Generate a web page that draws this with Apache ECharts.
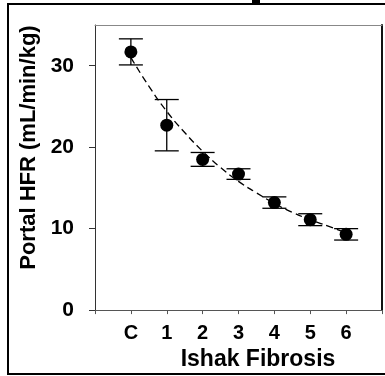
<!DOCTYPE html>
<html>
<head>
<meta charset="utf-8">
<script src="https://cdn.jsdelivr.net/npm/echarts@6/dist/echarts.min.js"></script>
<style>
html,body{margin:0;padding:0;background:#fff;}
#chart{width:385px;height:376px;}
</style>
</head>
<body>
<div id="chart"></div>
<script>
// Categories (x positions 0..6)
var categories = ['C', '1', '2', '3', '4', '5', '6'];
// Mean portal HFR values
var meanValues = [31.7, 22.7, 18.5, 16.7, 13.2, 11.1, 9.3];
// Error (+/-)
var errValues = [1.6, 3.15, 0.85, 0.65, 0.7, 0.73, 0.7];
// Fitted dashed curve
var curveX = [0, 0.5, 1, 1.5, 2, 2.5, 3, 3.5, 4, 4.5, 5, 5.5, 6];
var curveY = [31.0, 27.5, 24.4, 21.8, 19.5, 17.5, 15.8, 14.4, 13.1, 12.0, 11.1, 10.3, 9.5];
// Y tick values
var yTicks = [0, 10, 20, 30];

var FONT = '"Liberation Sans", Arial, sans-serif';

var chart = echarts.init(document.getElementById('chart'), null, {renderer: 'canvas'});

var pointData = meanValues.map(function (v, i) { return [i, v]; });
var errData = meanValues.map(function (v, i) { return [i, v - errValues[i], v + errValues[i]]; });
var curveData = curveX.map(function (x, i) { return [x, curveY[i]]; });

var option = {
  animation: false,
  backgroundColor: '#fff',
  grid: {left: 95, right: 3, top: 25, bottom: 63, containLabel: false},
  xAxis: [{
    type: 'value', min: -1, max: 7, interval: 1,
    axisLine: {show: true, onZero: false, lineStyle: {color: '#555', width: 1}},
    axisTick: {show: true, inside: false, length: 4, lineStyle: {color: '#555'}},
    splitLine: {show: false},
    axisLabel: {
      margin: 13, color: '#000', fontFamily: FONT, fontWeight: 'bold', fontSize: 20,
      formatter: function (v) { return (v >= 0 && v <= 6) ? categories[v] : ''; }
    },
    name: 'Ishak Fibrosis', nameLocation: 'middle', nameGap: 35,
    nameTextStyle: {color: '#000', fontFamily: FONT, fontWeight: 'bold', fontSize: 23, padding: [0, 0, 0, 39]}
  }, {
    type: 'value', min: -1, max: 7, position: 'top',
    axisLine: {show: true, onZero: false, lineStyle: {color: '#888', width: 1}},
    axisTick: {show: false}, axisLabel: {show: false}, splitLine: {show: false}
  }],
  yAxis: [{
    type: 'value', min: 0, max: 35, interval: 10,
    axisLine: {show: true, onZero: false, lineStyle: {color: '#333', width: 1}},
    axisTick: {show: true, length: 6, lineStyle: {color: '#333'}, customValues: yTicks},
    splitLine: {show: false},
    axisLabel: {
      margin: 21, color: '#000', fontFamily: FONT, fontWeight: 'bold', fontSize: 21,
      customValues: yTicks
    },
    name: 'Portal HFR (mL/min/kg)', nameLocation: 'middle', nameGap: 54, nameRotate: 90,
    nameTextStyle: {color: '#000', fontFamily: FONT, fontWeight: 'bold', fontSize: 22, padding: [0, 0, 0, 40]}
  }, {
    type: 'value', min: 0, max: 35, position: 'right',
    axisLine: {show: true, onZero: false, lineStyle: {color: '#111', width: 2}},
    axisTick: {show: false}, axisLabel: {show: false}, splitLine: {show: false}
  }],
  graphic: [
    {type: 'rect', shape: {x: 8, y: 4, width: 400, height: 370}, style: {fill: 'none', stroke: '#000', lineWidth: 2}, z: 100},
    {type: 'rect', shape: {x: 252, y: 0, width: 8, height: 3}, style: {fill: '#000'}, z: 100}
  ],
  series: [{
    type: 'line', data: curveData, smooth: true, showSymbol: false, symbol: 'none',
    lineStyle: {color: '#000', width: 1.3, type: [7, 4]}, z: 2
  }, {
    type: 'custom', data: errData, z: 3,
    renderItem: function (params, api) {
      var x = api.value(0);
      var lo = api.coord([x, api.value(1)]);
      var hi = api.coord([x, api.value(2)]);
      var hw = 12;
      var st = {stroke: '#000', lineWidth: 1.3};
      return {type: 'group', children: [
        {type: 'line', shape: {x1: lo[0], y1: lo[1], x2: hi[0], y2: hi[1]}, style: st},
        {type: 'line', shape: {x1: lo[0] - hw, y1: lo[1], x2: lo[0] + hw, y2: lo[1]}, style: st},
        {type: 'line', shape: {x1: hi[0] - hw, y1: hi[1], x2: hi[0] + hw, y2: hi[1]}, style: st}
      ]};
    }
  }, {
    type: 'scatter', data: pointData, symbol: 'circle', symbolSize: 13,
    itemStyle: {color: '#000', opacity: 1}, z: 4
  }]
};
chart.setOption(option);
</script>
</body>
</html>
